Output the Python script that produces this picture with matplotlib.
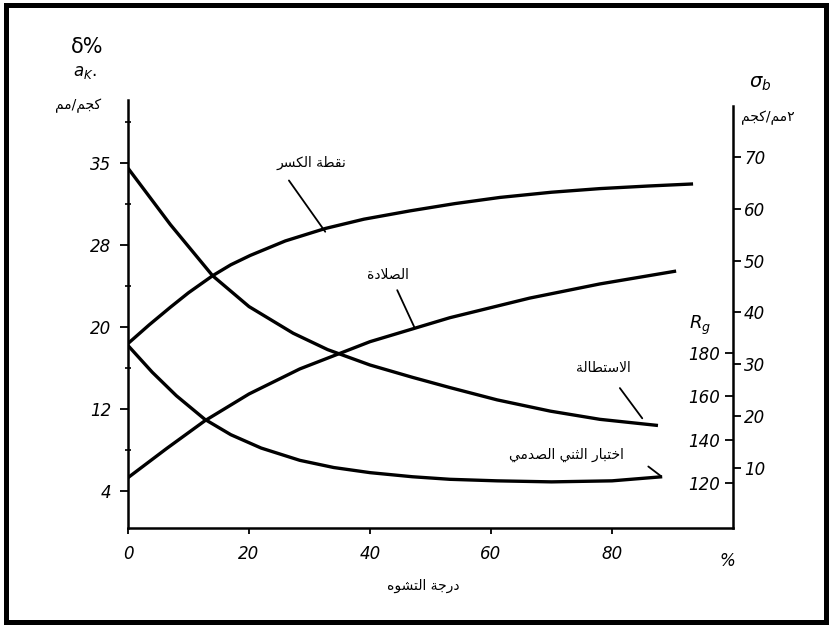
import matplotlib
matplotlib.use("Agg")
import matplotlib.pyplot as plt
from matplotlib.patches import Rectangle

plt.rcParams['font.family'] = ['DejaVu Sans']

# curves (x = degree of deformation, %)
elong_x = [0, 7, 14, 20, 27.3, 33, 40, 47, 53.2, 61, 69.8, 78, 87.6]
elong = [35.5, 30.0, 25.0, 22.0, 19.4, 17.8, 16.3, 15.1, 14.1, 12.9, 11.8, 11.0, 10.4]   # delta %

ak_x = [0, 4, 8, 12.7, 17, 22, 28.4, 34, 40, 47, 53.2, 61, 70, 80, 88.3]
ak = [18.2, 15.6, 13.3, 11.0, 9.5, 8.2, 7.0, 6.3, 5.8, 5.4, 5.15, 5.0, 4.9, 5.0, 5.4]   # a_K

sig_x = [0, 3.5, 7, 10, 14, 17, 20.2, 26, 32.6, 39, 46.6, 54, 61.5, 70, 78, 86, 93.4]
sig = [34.0, 37.6, 41.0, 43.8, 47.1, 49.2, 51.0, 53.8, 56.2, 58.0, 59.6, 61.0, 62.2,
       63.2, 63.9, 64.4, 64.8]                                                          # sigma_b

hard_x = [0, 6.4, 12.7, 20, 28.4, 40, 53.2, 66.4, 78, 90.6]
hard = [122.6, 136, 148.7, 161, 172.5, 185, 196, 205, 211.5, 217.4]                    # R_B

x_ticks = [0, 20, 40, 60, 80]
left_ticks = [4, 12, 20, 28, 36]
left_labels = ["4", "12", "20", "28", "35"]
sig_ticks = [10, 20, 30, 40, 50, 60, 70]
r_ticks = [120, 140, 160, 180]

# --- tiny arabic shaper (no bidi lib available) ---
F = {
    'ا': (0xFE8D, 0xFE8E, None, None), 'أ': (0xFE83, 0xFE84, None, None),
    'ب': (0xFE8F, 0xFE90, 0xFE91, 0xFE92), 'ت': (0xFE95, 0xFE96, 0xFE97, 0xFE98),
    'ث': (0xFE99, 0xFE9A, 0xFE9B, 0xFE9C), 'ج': (0xFE9D, 0xFE9E, 0xFE9F, 0xFEA0),
    'ح': (0xFEA1, 0xFEA2, 0xFEA3, 0xFEA4), 'خ': (0xFEA5, 0xFEA6, 0xFEA7, 0xFEA8),
    'د': (0xFEA9, 0xFEAA, None, None), 'ر': (0xFEAD, 0xFEAE, None, None),
    'س': (0xFEB1, 0xFEB2, 0xFEB3, 0xFEB4), 'ش': (0xFEB5, 0xFEB6, 0xFEB7, 0xFEB8),
    'ص': (0xFEB9, 0xFEBA, 0xFEBB, 0xFEBC), 'ط': (0xFEC1, 0xFEC2, 0xFEC3, 0xFEC4),
    'ق': (0xFED5, 0xFED6, 0xFED7, 0xFED8), 'ك': (0xFED9, 0xFEDA, 0xFEDB, 0xFEDC),
    'ل': (0xFEDD, 0xFEDE, 0xFEDF, 0xFEE0), 'م': (0xFEE1, 0xFEE2, 0xFEE3, 0xFEE4),
    'ن': (0xFEE5, 0xFEE6, 0xFEE7, 0xFEE8), 'ه': (0xFEE9, 0xFEEA, 0xFEEB, 0xFEEC),
    'و': (0xFEED, 0xFEEE, None, None), 'ي': (0xFEF1, 0xFEF2, 0xFEF3, 0xFEF4),
    'ة': (0xFE93, 0xFE94, None, None),
}

def ar(text):
    out = []
    i = 0
    prev_joins = False
    while i < len(text):
        c = text[i]
        nxt = text[i + 1] if i + 1 < len(text) else ''
        if c == 'ل' and nxt in ('ا', 'أ'):
            lig = (0xFEFB, 0xFEFC) if nxt == 'ا' else (0xFEF7, 0xFEF8)
            out.append(chr(lig[1] if prev_joins else lig[0]))
            prev_joins = False
            i += 2
            continue
        if c not in F:
            out.append(c)
            prev_joins = False
            i += 1
            continue
        iso, fin, ini, med = F[c]
        next_ar = nxt in F
        if ini is None:
            out.append(chr(fin if prev_joins else iso))
            prev_joins = False
        else:
            if prev_joins and next_ar:
                out.append(chr(med))
            elif prev_joins:
                out.append(chr(fin))
            elif next_ar:
                out.append(chr(ini))
            else:
                out.append(chr(iso))
            prev_joins = next_ar
        i += 1
    return ''.join(reversed(out))


W, H = 831, 627
fig = plt.figure(figsize=(W / 100, H / 100), dpi=100)

L, R, B, T = 128, 733, 528, 100
ax = fig.add_axes([L / W, 1 - B / H, (R - L) / W, (B - T) / H])
ax_s = ax.twinx()
ax_r = ax.twinx()

ax.set_xlim(0, 100)
ax.set_ylim(0.4, 42.15)
ax_s.set_ylim(-1.6, 81.0)
ax_r.set_ylim(99.5, 295.9)

lw = 2.4
ax.plot(elong_x, elong, color='black', lw=lw, solid_capstyle='butt')
ax.plot(ak_x, ak, color='black', lw=lw, solid_capstyle='butt')
ax_s.plot(sig_x, sig, color='black', lw=lw, solid_capstyle='butt')
ax_r.plot(hard_x, hard, color='black', lw=lw, solid_capstyle='butt')

for a in (ax, ax_s, ax_r):
    a.spines['top'].set_visible(False)
    a.patch.set_visible(False)
ax.spines['right'].set_visible(False)
ax_s.spines['left'].set_visible(False)
ax_s.spines['bottom'].set_visible(False)
for s in ax_r.spines.values():
    s.set_visible(False)
ax.spines['left'].set_linewidth(1.8)
ax.spines['bottom'].set_linewidth(1.8)
ax_s.spines['right'].set_linewidth(1.8)
ax_s.spines['right'].set_bounds(-1.6, 79.8)

tfont = dict(fontsize=12, style='italic')

ax.set_xticks(x_ticks, [str(v) for v in x_ticks], **tfont)
ax.tick_params(axis='x', direction='out', length=4, width=1.3, pad=8)
ax.text(99, -0.056, '%', transform=ax.get_xaxis_transform(), ha='center', va='top', **tfont)

ax.set_yticks(left_ticks, left_labels, **tfont)
ax.set_yticks([8, 16, 24, 32, 40], minor=True)
ax.tick_params(axis='y', which='major', direction='out', length=6, width=1.3, pad=6)
ax.tick_params(axis='y', which='minor', direction='inout', length=5, width=1.2)

ax_s.set_yticks(sig_ticks, [str(v) for v in sig_ticks], **tfont)
ax_s.tick_params(axis='y', direction='out', length=6, width=1.3, pad=2)

ax_r.yaxis.set_ticks_position('right')
ax_r.set_yticks(r_ticks, [str(v) for v in r_ticks], ha='right', **tfont)
ax_r.tick_params(axis='y', direction='in', length=6, width=1.3, pad=-9)

# axis titles
fig.text(87 / W, 1 - 47 / H, 'δ%', ha='center', va='center', fontsize=15)
fig.text(85 / W, 1 - 72 / H, '$a_K$.', ha='center', va='center', fontsize=12)
fig.text(78 / W, 1 - 106 / H, ar('كجم/مم'), ha='center', va='center', fontsize=10)
fig.text(760 / W, 1 - 83 / H, r'$\sigma_b$', ha='center', va='center', fontsize=14)
fig.text(768 / W, 1 - 118 / H, ar('٢مم/كجم'), ha='center', va='center', fontsize=10)
fig.text(700 / W, 1 - 325 / H, '$R_g$', ha='center', va='center', fontsize=13)
fig.text(423 / W, 1 - 586 / H, ar('درجة التشوه'), ha='center', va='center', fontsize=10)

# curve labels with leader lines (left-axis data coords)
lab = dict(fontsize=10, ha='center', va='center')
lead = dict(arrowstyle='-', lw=1.3, color='black', shrinkA=0, shrinkB=0)
ax.text(30.4, 36.0, ar('نقطة الكسر'), **lab)
ax.annotate('', xy=(32.6, 29.3), xytext=(26.6, 34.3), arrowprops=lead)
ax.text(43.0, 25.1, ar('الصلادة'), **lab)
ax.annotate('', xy=(47.4, 19.9), xytext=(44.5, 23.6), arrowprops=lead)
ax.text(78.5, 16.0, ar('الاستطالة'), **lab)
ax.annotate('', xy=(85.0, 11.1), xytext=(81.3, 14.05), arrowprops=lead)
ax.text(72.4, 7.5, ar('اختبار الثني الصدمي'), **lab)
ax.annotate('', xy=(88.0, 5.5), xytext=(86.0, 6.4), arrowprops=lead)

# black frame around the picture
fig.patches.append(Rectangle((5.5 / W, 5 / H), 820 / W, 617 / H, transform=fig.transFigure,
                             fill=False, lw=3.6, edgecolor='black'))

fig.savefig('out.png', dpi=100)
